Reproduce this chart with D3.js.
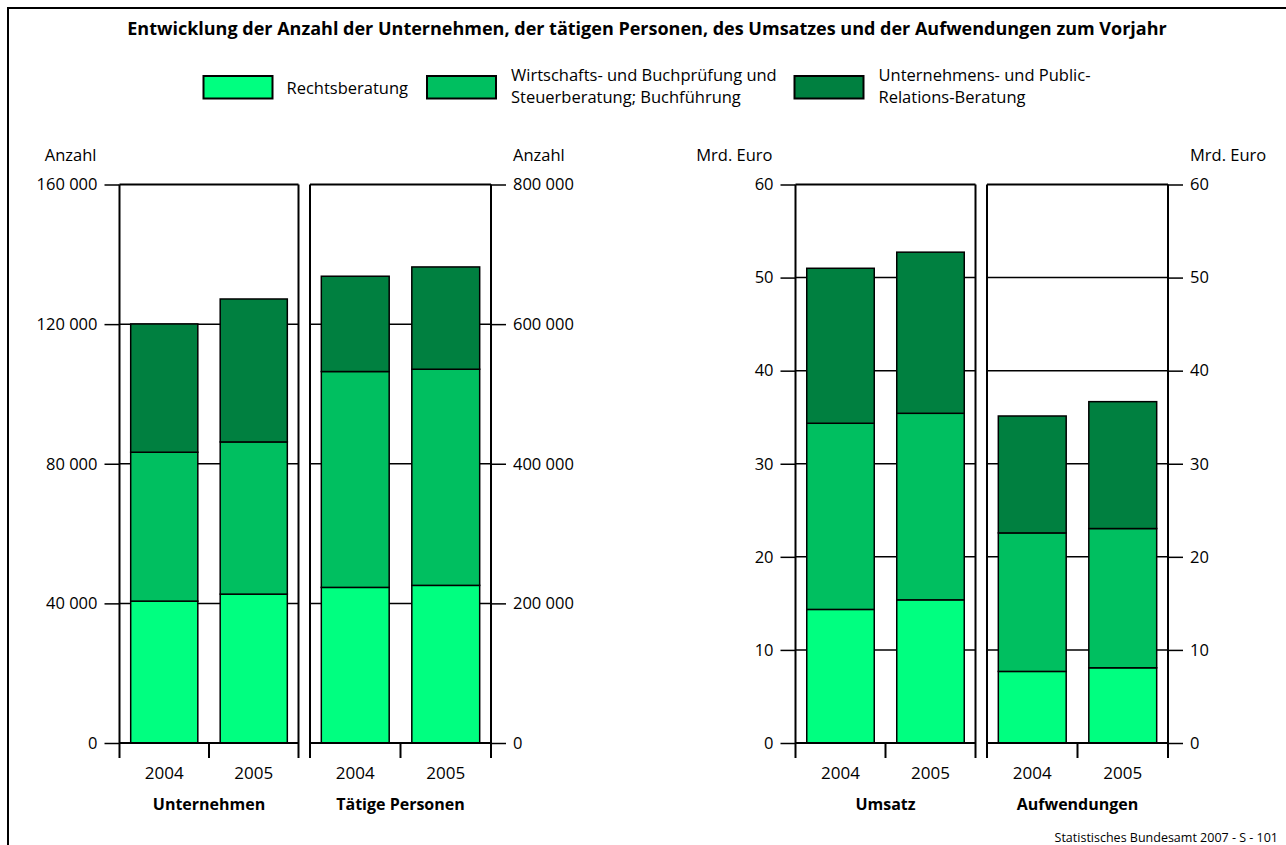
<!DOCTYPE html>
<html>
<head>
<meta charset="utf-8">
<script src="https://cdn.jsdelivr.net/npm/d3@7"></script>
<style>
  body { margin: 0; background: #fff; }
  text { font-family: "Open Sans", sans-serif; fill: #000; }
</style>
</head>
<body>
<div id="chart"></div>
<script>
const years = ["2004", "2005"]
const series = [
  ["Rechtsberatung"],
  ["Wirtschafts- und Buchprüfung und", "Steuerberatung; Buchführung"],
  ["Unternehmens- und Public-", "Relations-Beratung"]
]
const colors = ["#00ff80", "#00bf60", "#008040"]

// values per series, [2004, 2005]
const unternehmen = [[40650, 42650], [42650, 43600], [36750, 40950]]
const personen = [[222900, 225800], [309200, 309600], [136500, 146500]]
const umsatz = [[14.35, 15.38], [20.0, 20.04], [16.65, 17.31]]
const aufwendungen = [[7.69, 8.08], [14.88, 14.96], [12.56, 13.63]]

const ticksAnzahlLeft = [0, 40000, 80000, 120000, 160000]
const ticksAnzahlRight = [0, 200000, 400000, 600000, 800000]
const ticksEuro = [0, 10, 20, 30, 40, 50, 60]

const fmt = d3.formatLocale({ decimal: ",", thousands: " ", grouping: [3], currency: ["", ""] }).format(",")

const W = 1286, H = 845
const plotTop = 184.5, base = 743, tickLen = 15
const fs = "16.5px"

const svg = d3.select("#chart").append("svg")
  .attr("width", W).attr("height", H)

svg.append("rect")
  .attr("x", 8).attr("y", 8)
  .attr("width", W + 20).attr("height", H + 20)
  .style("fill", "none").style("stroke", "#000").style("stroke-width", 2)

svg.append("text")
  .attr("x", 647).attr("y", 35)
  .attr("text-anchor", "middle")
  .style("font-size", "18px").style("font-weight", "bold")
  .text("Entwicklung der Anzahl der Unternehmen, der tätigen Personen, des Umsatzes und der Aufwendungen zum Vorjahr")

// legend
const legendX = [203.5, 427, 794.5]
const legend = svg.selectAll("g.legend")
  .data(series).enter().append("g")
  .attr("class", "legend")
  .attr("transform", (d, i) => `translate(${legendX[i]},76)`)

legend.append("rect")
  .attr("width", 69).attr("height", 22.5)
  .style("fill", (d, i) => colors[i])
  .style("stroke", "#000").style("stroke-width", 2)

legend.each(function(lines) {
  const t = d3.select(this).append("text")
    .style("font-size", fs)
  lines.forEach((l, j) => {
    t.append("tspan")
      .attr("x", lines.length == 1 ? 83 : 84)
      .attr("y", lines.length == 1 ? 17.5 : 5 + j * 21.5)
      .text(l)
  })
})

const panels = [
  { name: "Unternehmen", values: unternehmen, x0: 119.5, x1: 298.5, ticks: ticksAnzahlLeft, side: "left", unit: "Anzahl" },
  { name: "Tätige Personen", values: personen, x0: 310, x1: 491, ticks: ticksAnzahlRight, side: "right", unit: "Anzahl" },
  { name: "Umsatz", values: umsatz, x0: 795.5, x1: 975.5, ticks: ticksEuro, side: "left", unit: "Mrd. Euro" },
  { name: "Aufwendungen", values: aufwendungen, x0: 987, x1: 1168, ticks: ticksEuro, side: "right", unit: "Mrd. Euro" }
]

panels.forEach(p => {
  const g = svg.append("g")
  const x = d3.scaleBand().domain(years).range([p.x0, p.x1])
    .paddingInner(0.25).paddingOuter(0.125)
  const y = d3.scaleLinear().domain([0, d3.max(p.ticks)]).range([base, plotTop])

  // grid lines
  g.selectAll("line.grid")
    .data(p.ticks.slice(1, -1)).enter().append("line")
    .attr("x1", p.x0).attr("x2", p.x1)
    .attr("y1", d => y(d)).attr("y2", d => y(d))
    .style("stroke", "#000").style("stroke-width", 1.5)

  const rows = years.map((yr, j) => {
    const r = { year: yr }
    p.values.forEach((v, i) => r[i] = v[j])
    return r
  })
  const stacked = d3.stack().keys(d3.range(series.length))(rows)

  g.selectAll("g.layer")
    .data(stacked).enter().append("g")
    .style("fill", (d, i) => colors[i])
    .selectAll("rect")
    .data(d => d).enter().append("rect")
    .attr("x", d => x(d.data.year))
    .attr("width", x.bandwidth())
    .attr("y", d => y(d[1]))
    .attr("height", d => y(d[0]) - y(d[1]))
    .style("stroke", "#000").style("stroke-width", 1.5)

  // axis
  const axis = (p.side == "left" ? d3.axisLeft(y) : d3.axisRight(y))
    .tickValues(p.ticks).tickSize(tickLen).tickPadding(7).tickFormat(fmt)
  const ax = g.append("g")
    .attr("transform", `translate(${p.side == "left" ? p.x0 : p.x1},0)`)
    .call(axis)
  ax.select(".domain").remove()
  ax.selectAll("line").style("stroke", "#000").style("stroke-width", 1.5)
  ax.selectAll("text").style("font-size", fs).style("font-family", "'Open Sans', sans-serif").attr("fill", "#000")

  // unit label
  svg.append("text")
    .attr("x", p.side == "left" ? p.x0 - 23 : p.x1 + 22)
    .attr("y", 161)
    .attr("text-anchor", p.side == "left" ? "end" : "start")
    .style("font-size", fs)
    .text(p.unit)

  // frame
  const frame = [
    [p.x0, plotTop, p.x0, base + tickLen],
    [p.x1, plotTop, p.x1, base + tickLen],
    [p.x0, plotTop, p.x1, plotTop],
    [p.x0, base, p.x1, base],
    [(p.x0 + p.x1) / 2, base, (p.x0 + p.x1) / 2, base + tickLen]
  ]
  g.selectAll("line.frame")
    .data(frame).enter().append("line")
    .attr("x1", d => d[0]).attr("y1", d => d[1])
    .attr("x2", d => d[2]).attr("y2", d => d[3])
    .style("stroke", "#000").style("stroke-width", 2)

  g.selectAll("text.year")
    .data(years).enter().append("text")
    .attr("x", d => x(d) + x.bandwidth() / 2)
    .attr("y", 779)
    .attr("text-anchor", "middle")
    .style("font-size", "17px")
    .text(d => d)

  g.append("text")
    .attr("x", (p.x0 + p.x1) / 2)
    .attr("y", 810)
    .attr("text-anchor", "middle")
    .style("font-size", "16px").style("font-weight", "bold")
    .text(p.name)
})

svg.append("text")
  .attr("x", 1278).attr("y", 842)
  .attr("text-anchor", "end")
  .style("font-size", "12.5px")
  .text("Statistisches Bundesamt 2007 - S - 101")
</script>
</body>
</html>
